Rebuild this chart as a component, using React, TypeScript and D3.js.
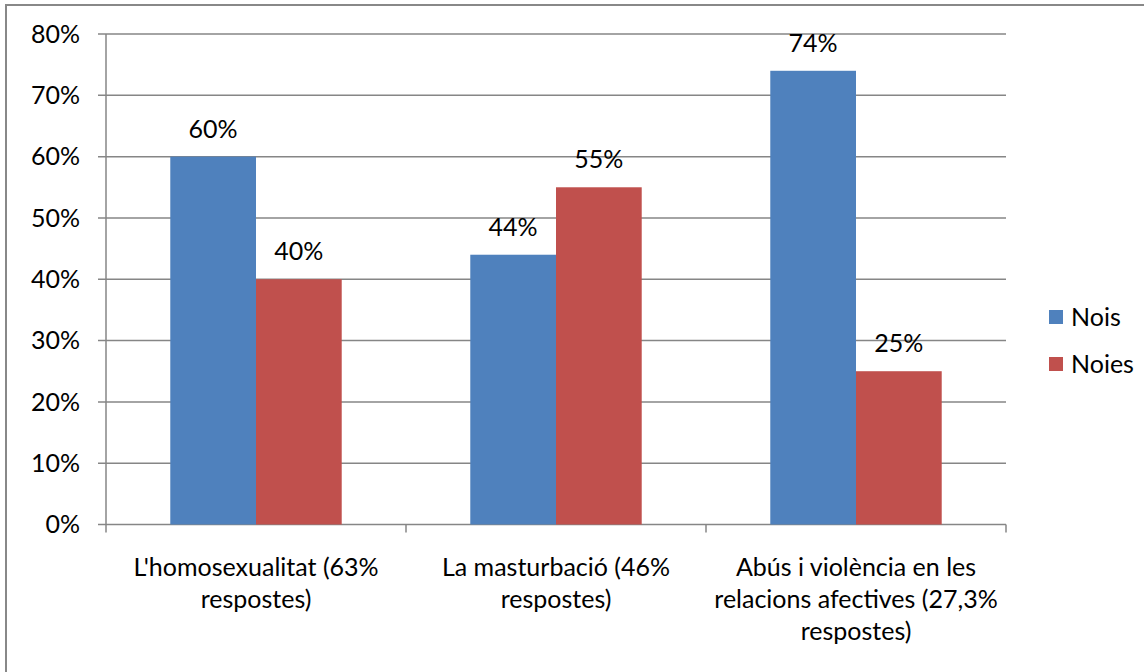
import React from "react";
import * as d3 from "d3";

const categories = [
  "L'homosexualitat (63%\nrespostes)",
  "La masturbació (46%\nrespostes)",
  "Abús i violència en les\nrelacions afectives (27,3%\nrespostes)",
];
const seriesNames = ["Nois", "Noies"];
const noisValues = [0.6, 0.44, 0.74];
const noiesValues = [0.4, 0.55, 0.25];
const yTicks = [0, 0.1, 0.2, 0.3, 0.4, 0.5, 0.6, 0.7, 0.8];
const colors = ["#4F81BD", "#C0504D"];

const W = 1144;
const H = 672;
const FONT = "Lato, 'Open Sans', sans-serif";
const FS = 25;

export default function App() {
  const left = 106, right = 1006, top = 34, bottom = 524.5;
  const y = d3.scaleLinear().domain([0, 0.8]).range([bottom, top]);
  const x0 = d3.scaleBand<string>().domain(categories).range([left, right]).paddingInner(0).paddingOuter(0);
  const x1 = d3
    .scaleBand<string>()
    .domain(seriesNames)
    .range([0, x0.bandwidth()])
    .paddingInner(0)
    .paddingOuter(0.75);
  const seriesValues = [noisValues, noiesValues];
  const fmt = d3.format(".0%");
  const grid = "#868686";
  const tickXs = categories.map((c) => x0(c) as number).concat([right]);

  return (
    <svg width={W} height={H} style={{ position: "absolute", left: 0, top: 0, background: "#fff" }} fontFamily={FONT}>
      <rect x={0} y={0} width={W} height={H} fill="#fff" />
      <rect x={6} y={5} width={W + 50} height={H + 50} fill="none" stroke="#888" strokeWidth={2} />
      {yTicks.map((t) => (
        <g key={t}>
          <line x1={left - 8} x2={right} y1={y(t)} y2={y(t)} stroke={grid} strokeWidth={1.5} />
          <text x={80} y={y(t)} dy="0.35em" textAnchor="end" fontSize={FS} fill="#000">
            {fmt(t)}
          </text>
        </g>
      ))}
      <line x1={left} x2={left} y1={top} y2={bottom} stroke={grid} strokeWidth={1.5} />
      {tickXs.map((tx, i) => (
        <line key={i} x1={tx} x2={tx} y1={bottom} y2={bottom + 8} stroke={grid} strokeWidth={1.5} />
      ))}
      {categories.map((c, ci) => (
        <g key={c}>
          {seriesNames.map((s, si) => {
            const v = seriesValues[si][ci];
            const bx = (x0(c) as number) + (x1(s) as number);
            return (
              <g key={s}>
                <rect x={bx} y={y(v)} width={x1.bandwidth()} height={bottom - y(v)} fill={colors[si]} />
                <text
                  x={bx + x1.bandwidth() / 2}
                  y={y(v) - 19}
                  textAnchor="middle"
                  fontSize={FS}
                  fill="#000"
                >
                  {fmt(v)}
                </text>
              </g>
            );
          })}
          {c.split("\n").map((line, li) => (
            <text
              key={li}
              x={(x0(c) as number) + x0.bandwidth() / 2}
              y={576 + li * 32}
              textAnchor="middle"
              fontSize={FS}
              fill="#000"
            >
              {line}
            </text>
          ))}
        </g>
      ))}
      {seriesNames.map((s, si) => (
        <g key={s}>
          <rect x={1049} y={310 + si * 47} width={14} height={14} fill={colors[si]} />
          <text x={1071} y={317 + si * 47} dy="0.35em" fontSize={FS} fill="#000">
            {s}
          </text>
        </g>
      ))}
    </svg>
  );
}
